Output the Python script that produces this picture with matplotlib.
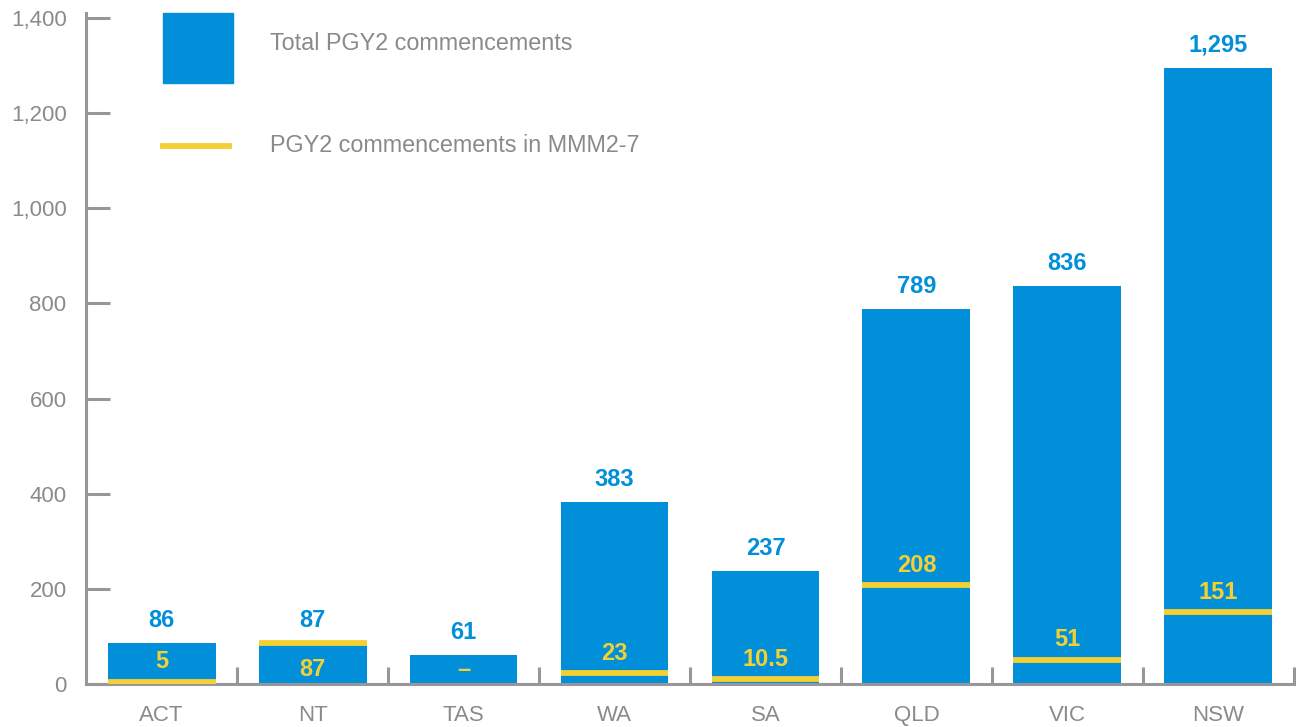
import numpy as np
import matplotlib.pyplot as plt
from matplotlib.patches import Rectangle
from matplotlib.lines import Line2D

estados = ["ACT", "NT", "TAS", "WA", "SA", "QLD", "VIC", "NSW"]
total = [86, 87, 61, 383, 237, 789, 836, 1295]
mmm27 = [5, 87, None, 23, 10.5, 208, 51, 151]
etiquetas_mmm = ["5", "87", "–", "23", "10.5", "208", "51", "151"]

azul = "#008fd8"
amarillo = "#f5d033"
gris = "#97979b"
gris_txt = "#8a8a8a"

plt.rcParams['font.family'] = ['Liberation Sans', 'DejaVu Sans']

fig = plt.figure(figsize=(12.96, 7.27), dpi=100)
ax = fig.add_axes([0.0664, 0.0591, 0.932, 0.9161])

x = np.arange(len(estados))
ancho = 0.715
ax.bar(x, total, width=ancho, color=azul, zorder=2)

for xi, v in zip(x, mmm27):
    if v is not None:
        ax.hlines(v, xi - ancho / 2, xi + ancho / 2, color=amarillo, lw=4.2, zorder=3)

# etiquetas de totales
for xi, v in zip(x, total):
    ax.annotate(f"{v:,}", (xi, v), xytext=(0, 8), textcoords="offset points",
                ha="center", va="bottom", color=azul, fontsize=17, fontweight="bold")

# etiquetas MMM2-7
for xi, v, t, tot in zip(x, mmm27, etiquetas_mmm, total):
    if v is None:
        ax.annotate(t, (xi, tot / 2), ha="center", va="center",
                    color=amarillo, fontsize=17, fontweight="bold")
    elif v >= tot:
        ax.annotate(t, (xi, v), xytext=(0, -11), textcoords="offset points",
                    ha="center", va="top", color=amarillo, fontsize=17, fontweight="bold")
    else:
        ax.annotate(t, (xi, v), xytext=(0, 6), textcoords="offset points",
                    ha="center", va="bottom", color=amarillo, fontsize=17, fontweight="bold")

ax.set_xlim(-0.5, len(estados) - 0.5)
ax.set_ylim(0, 1400)
ax.set_yticks(np.arange(0, 1401, 200))
ax.set_yticklabels([f"{v:,}" for v in range(0, 1401, 200)])
ax.set_xticks(x)
ax.set_xticklabels(estados)
ax.set_xticks(np.arange(0.5, len(estados), 1), minor=True)

for s in ["top", "right"]:
    ax.spines[s].set_visible(False)
for s in ["left", "bottom"]:
    ax.spines[s].set_color(gris)
    ax.spines[s].set_linewidth(2.2)
ax.spines["left"].set_bounds(0, 1410)

ax.tick_params(axis="y", direction="in", length=17, width=2.2, color=gris,
               labelsize=16, labelcolor=gris_txt, pad=14)
ax.tick_params(axis="x", which="major", length=0, labelsize=16, labelcolor=gris_txt, pad=15)
ax.tick_params(axis="x", which="minor", direction="in", length=12, width=2.2, color=gris)

# leyenda manual
fig.patches.append(Rectangle((163 / 1296, 1 - 83 / 727), 70 / 1296, 70 / 727,
                             transform=fig.transFigure, color=azul))
fig.lines.append(Line2D([163 / 1296, 229 / 1296], [1 - 146 / 727] * 2,
                        transform=fig.transFigure, color=amarillo, lw=4.2))
fig.text(270 / 1296, 1 - 44 / 727, "Total PGY2 commencements", va="center", ha="left",
         fontsize=16.8, color=gris_txt)
fig.text(270 / 1296, 1 - 146 / 727, "PGY2 commencements in MMM2-7", va="center", ha="left",
         fontsize=16.8, color=gris_txt)

fig.savefig("out.png", dpi=100)
